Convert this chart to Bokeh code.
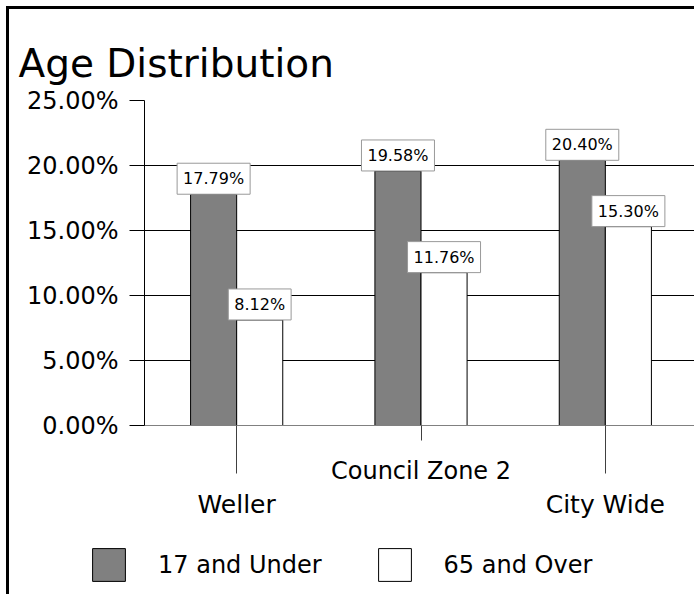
from bokeh.plotting import figure
from bokeh.models import (ColumnDataSource, FactorRange, LinearAxis, FixedTicker,
                          PrintfTickFormatter, Grid, Label, Legend, LegendItem, Range1d)
from bokeh.transform import dodge
from bokeh.embed import file_html
from bokeh.resources import INLINE

# ---- data ----
categories = ["Weller", "Council Zone 2", "City Wide"]
under_17 = [17.79, 19.58, 20.40]
over_65 = [8.12, 11.76, 15.30]
series_names = ["17 and Under", "65 and Over"]
y_ticks = [0, 5, 10, 15, 20, 25]
title_text = "Age Distribution"

FONT = "DejaVu Sans"
DARK = "#808080"
BAR_W = 0.25

source = ColumnDataSource(dict(cat=categories, u17=under_17, o65=over_65))

p = figure(width=688, height=521,
           x_range=FactorRange(*categories), y_range=Range1d(y_ticks[0], y_ticks[-1]),
           output_backend="svg", toolbar_location=None,
           x_axis_location=None,
           min_border_left=135, min_border_right=0, min_border_top=91, min_border_bottom=105,
           title=title_text)
p.styles = {"margin-left": "6px", "margin-top": "6px",
            "border-left": "3px solid black", "border-top": "3px solid black"}
p.outline_line_color = None
p.background_fill_color = "white"
p.border_fill_color = "white"

# title
p.title.text_font = FONT
p.title.text_font_size = "39px"
p.title.text_font_style = "normal"
p.title.text_color = "black"
p.title.align = "left"
p.title.offset = -126
p.title.standoff = 29

# y axis
ya = p.yaxis[0]
ya.ticker = FixedTicker(ticks=y_ticks)
ya.formatter = PrintfTickFormatter(format="%.2f%%")
ya.axis_line_color = "black"
ya.major_tick_out = 15
ya.major_tick_in = 0
ya.minor_tick_out = 0
ya.minor_tick_in = 0
ya.major_tick_line_color = "black"
ya.major_label_standoff = 11
ya.major_label_text_font = FONT
ya.major_label_text_font_size = "24px"
ya.major_label_text_color = "black"

# grids
p.xgrid.grid_line_color = None
p.ygrid.ticker = FixedTicker(ticks=y_ticks[1:-1])
p.ygrid.grid_line_color = "black"
p.ygrid.grid_line_width = 1
p.add_layout(Grid(dimension=1, ticker=FixedTicker(ticks=[y_ticks[-1]]), grid_line_color="#808080"))

# bars
bar_kw = dict(width=BAR_W, line_color="black", line_width=1)
r1 = p.vbar(x=dodge("cat", -BAR_W / 2, range=p.x_range), top="u17", fill_color=DARK,
            source=source, **bar_kw)
r2 = p.vbar(x=dodge("cat", BAR_W / 2, range=p.x_range), top="o65", fill_color="white",
            source=source, **bar_kw)

# data labels
for i in range(len(categories)):
    for vals, off in ((under_17, -BAR_W / 2), (over_65, BAR_W / 2)):
        p.add_layout(Label(x=i + 0.5 + off, y=vals[i], text=f"{vals[i]:.2f}%",
                           anchor="bottom_center", padding=6,
                           background_fill_color="white", border_line_color="#999999",
                           text_font=FONT, text_font_size="16px", text_color="black"))

# x axis with staggered labels: inner axis (Council Zone 2) + outer axis (Weller, City Wide)
centers = [i + 0.5 for i in range(len(categories))]
outer = centers[0::2]
inner = centers[1::2]


def overrides_for(ticks):
    d = {}
    for c in ticks:
        d[c] = categories[centers.index(c)]
        d[str(c)] = categories[centers.index(c)]
    return d


xa_inner = LinearAxis(ticker=FixedTicker(ticks=inner, minor_ticks=outer),
                      major_label_overrides=overrides_for(inner),
                      axis_line_color="#808080",
                      major_tick_out=15, major_tick_in=0,
                      minor_tick_out=48, minor_tick_in=0,
                      major_tick_line_color="#404040", minor_tick_line_color="#404040",
                      major_label_standoff=-17,
                      major_label_text_font=FONT, major_label_text_font_size="24px",
                      major_label_text_color="black")
p.add_layout(xa_inner, "below")

xa_outer = LinearAxis(ticker=FixedTicker(ticks=outer, minor_ticks=[]),
                      major_label_overrides=overrides_for(outer),
                      axis_line_color=None,
                      major_tick_out=0, major_tick_in=0,
                      minor_tick_out=0, minor_tick_in=0,
                      major_tick_line_color=None, minor_tick_line_color=None,
                      major_label_standoff=2,
                      major_label_text_font=FONT, major_label_text_font_size="25px",
                      major_label_text_color="black")
p.add_layout(xa_outer, "below")

# legend strip: a second root below the chart. Its bar renderers only supply the legend
# swatches (their tops are NaN, so they draw no bar).
q = figure(width=688, height=67, x_range=FactorRange(*categories), y_range=Range1d(0, 1),
           output_backend="svg", toolbar_location=None,
           x_axis_location=None, y_axis_location=None,
           min_border_left=0, min_border_right=0, min_border_top=0, min_border_bottom=0)
q.styles = {"margin-left": "6px", "border-left": "3px solid black"}
q.outline_line_color = None
q.grid.visible = False
q.background_fill_color = "white"
q.border_fill_color = "white"
swatch_src = ColumnDataSource(dict(cat=categories, top=[float("nan")] * len(categories)))
l1 = q.vbar(x="cat", top="top", fill_color=DARK, source=swatch_src, **bar_kw)
l2 = q.vbar(x="cat", top="top", fill_color="white", source=swatch_src, **bar_kw)

legend = Legend(items=[LegendItem(label=series_names[0], renderers=[l1]),
                       LegendItem(label=series_names[1], renderers=[l2])],
                orientation="horizontal", location=(79, 9),
                glyph_width=41, glyph_height=41, label_standoff=29, spacing=52,
                padding=0, margin=0, border_line_color=None, background_fill_alpha=0,
                label_text_font=FONT, label_text_font_size="24px", label_text_color="black")
q.add_layout(legend)

open("out.html", "w").write(file_html([p, q], INLINE))
